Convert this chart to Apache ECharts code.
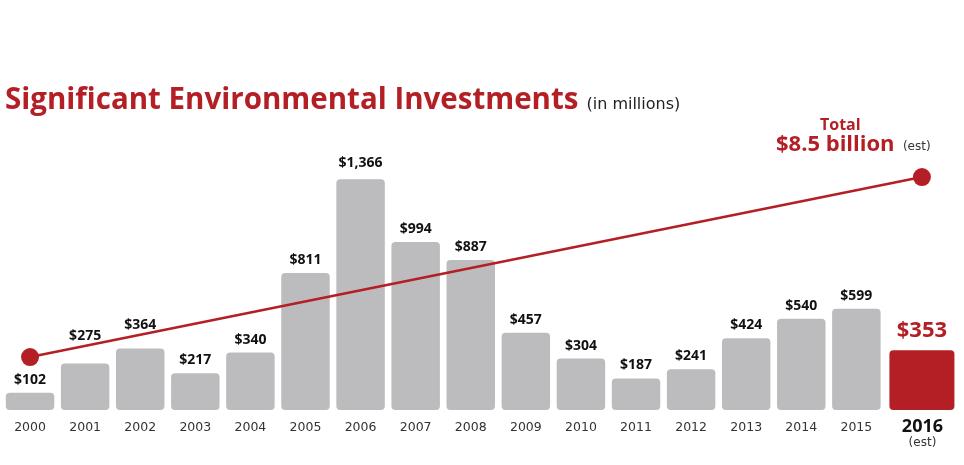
<!DOCTYPE html>
<html>
<head>
<meta charset="utf-8">
<script src="https://cdn.jsdelivr.net/npm/echarts@6/dist/echarts.min.js"></script>
<style>html,body{margin:0;padding:0;background:#fff;}#c{width:964px;height:465px;}</style>
</head>
<body>
<div id="c"></div>
<script>
const years = ['2000','2001','2002','2003','2004','2005','2006','2007','2008','2009','2010','2011','2012','2013','2014','2015','2016'];
const investments = [102, 275, 364, 217, 340, 811, 1366, 994, 887, 457, 304, 187, 241, 424, 540, 599, '-'];
const estimateYear = '2016';
const estimateValue = 353;
const totalLine = [102, 8500]; // start (2000) and estimated total (2016)

const RED = '#b31f25';
const GREY = '#bcbcbe';
const fmt = v => '$' + Number(v).toLocaleString('en-US');
const lastIdx = years.length - 1;
// label lift (px) for labels that sit above the trend line in the original
const labelDistance = { 1: 21, 2: 16, 6: 9 };

const barData = investments.map((v, i) =>
  labelDistance[i] ? { value: v, label: { distance: labelDistance[i] } } : v);

const chart = echarts.init(document.getElementById('c'));
chart.setOption({
  animation: false,
  backgroundColor: '#fff',
  title: {
    left: 0, top: 81,
    text: '{a|Significant Environmental Investments} {b|(in millions)}',
    textStyle: {
      rich: {
        a: { fontFamily: 'Open Sans', fontWeight: 'bold', fontSize: 29.5, color: RED },
        b: { fontFamily: 'DejaVu Sans', fontWeight: 'normal', fontSize: 16, color: '#222', padding: [7, 0, 0, 3] }
      }
    }
  },
  graphic: [{
    type: 'text', left: 820, top: 117,
    style: { text: 'Total', font: 'bold 16px "Open Sans"', fill: RED }
  }, {
    type: 'text', left: 776, top: 134,
    style: {
      text: '{v|$8.5 billion} {e|(est)}',
      rich: {
        v: { fontFamily: 'Open Sans', fontWeight: 'bold', fontSize: 22, fill: RED },
        e: { fontFamily: 'DejaVu Sans', fontWeight: 'normal', fontSize: 12, fill: '#333', padding: [3, 0, 0, 5] }
      }
    }
  }],
  grid: { left: 2.5, right: 25, top: 170, bottom: 55 },
  xAxis: {
    type: 'category',
    data: years,
    axisLine: { show: false },
    axisTick: { show: false },
    axisLabel: {
      interval: 0,
      margin: 11,
      fontFamily: 'DejaVu Sans',
      fontSize: 12.5,
      color: '#333',
      formatter: (v) => v === estimateYear ? '{b|' + v + '}\n{e|(est)}' : v,
      rich: {
        b: { fontFamily: 'Open Sans', fontWeight: 'bold', fontSize: 18, color: '#111', padding: [0, 0, 0, 22], lineHeight: 12 },
        e: { fontFamily: 'DejaVu Sans', fontSize: 12, color: '#333', padding: [0, 0, 0, 22], lineHeight: 19 }
      }
    }
  },
  yAxis: [
    { type: 'value', min: 0, max: 1420, show: false },
    { type: 'value', min: -2370, max: 8830, show: false }
  ],
  series: [{
    type: 'bar',
    data: barData,
    barCategoryGap: '12%',
    itemStyle: { color: GREY, borderRadius: 4 },
    label: {
      show: true, position: 'top', distance: 6,
      fontFamily: 'Open Sans', fontWeight: 'bold', fontSize: 14, color: '#111',
      formatter: p => fmt(p.value)
    }
  }, {
    type: 'custom',
    yAxisIndex: 0,
    data: [[lastIdx, estimateValue]],
    encode: { x: 0, y: 1 },
    renderItem: (params, api) => {
      const top = api.coord([api.value(0), api.value(1)]);
      const base = api.coord([api.value(0), 0]);
      const bw = api.size([1, 0])[0];
      const x = top[0] - bw * 0.4;
      const w = bw * 1.18;
      return {
        type: 'group',
        children: [{
          type: 'rect',
          shape: { x: x, y: top[1], width: w, height: base[1] - top[1], r: 4 },
          style: { fill: RED }
        }, {
          type: 'text',
          style: {
            text: fmt(api.value(1)), x: x + w / 2, y: top[1] - 9,
            align: 'center', verticalAlign: 'bottom',
            font: 'bold 22px "Open Sans"', fill: RED
          }
        }]
      };
    }
  }, {
    type: 'custom',
    yAxisIndex: 1,
    data: [[0, totalLine[0], lastIdx, totalLine[1]]],
    encode: { x: [0, 2], y: [1, 3] },
    z: 5,
    renderItem: (params, api) => {
      const bw = api.size([1, 0])[0];
      const p0 = api.coord([api.value(0), api.value(1)]);
      const p1 = api.coord([api.value(2), api.value(3)]);
      p1[0] += bw * 0.19;
      return {
        type: 'group',
        children: [{
          type: 'line',
          shape: { x1: p0[0], y1: p0[1], x2: p1[0], y2: p1[1] },
          style: { stroke: RED, lineWidth: 2.5 }
        }, {
          type: 'circle', shape: { cx: p0[0], cy: p0[1], r: 9 }, style: { fill: RED }
        }, {
          type: 'circle', shape: { cx: p1[0], cy: p1[1], r: 9 }, style: { fill: RED }
        }]
      };
    }
  }]
});
</script>
</body>
</html>
